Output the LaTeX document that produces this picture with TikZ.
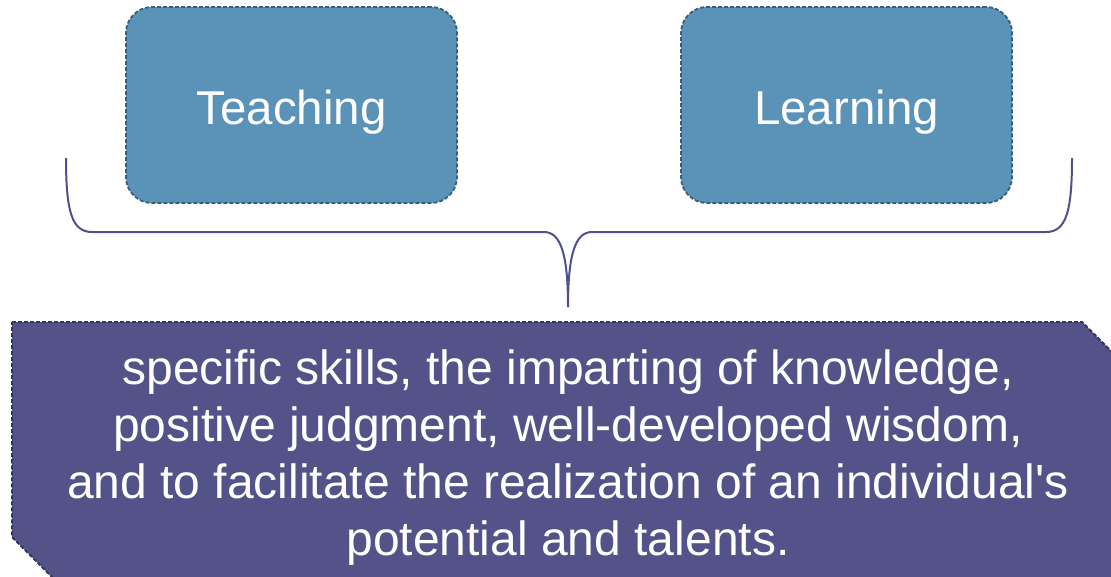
\documentclass[tikz,border=0pt]{standalone}
\usepackage{fontspec}
\setmainfont{Liberation Sans}
\newfontfamily\plainsans{Liberation Sans}
\definecolor{topfill}{RGB}{91,146,183}
\definecolor{topline}{RGB}{55,95,122}
\definecolor{botfill}{RGB}{84,83,137}
\definecolor{botline}{RGB}{52,52,92}
\definecolor{bracecol}{RGB}{80,80,140}
\tikzset{
  topbox/.style={draw=topline, fill=topfill, line width=1.8pt, dash pattern=on 4pt off 2pt,
    rounded corners=26pt, minimum width=331pt, minimum height=196pt, inner sep=0pt},
  toptext/.style={text=white, inner sep=0pt, font=\fontsize{47.5}{56}\selectfont},
  botshape/.style={draw=botline, fill=botfill, line width=1.8pt, dash pattern=on 4pt off 2pt},
  bottext/.style={text=white, align=center, font=\plainsans\fontsize{48}{57}\selectfont, inner sep=0pt},
  bracestyle/.style={draw=bracecol, line width=2pt}
}
\begin{document}
\begin{tikzpicture}[x=1pt,y=-1pt]
\useasboundingbox (0,0) rectangle (1111,576);
\clip (0,0) rectangle (1111,576);
\node[topbox] (teach) at (291.5,105) {};
\node[topbox] (learn) at (846.5,105) {};
\node[toptext] (teachtxt) at (291.5,112) {Teaching};
\node[toptext] (learntxt) at (846.5,112) {Learning};
\coordinate (tip) at (568,307);
\coordinate (lend) at (66,158);
\coordinate (rend) at (1072,158);
\draw[bracestyle] (lend) .. controls (66,212) and (72,232) .. (92,232) -- (544,232)
  .. controls (561,232) and (568,255) .. (tip);
\draw[bracestyle] (rend) .. controls (1072,212) and (1066,232) .. (1046,232) -- (592,232)
  .. controls (575,232) and (568,255) .. (tip);
\path[botshape] (12,322) -- (1082,322) -- (1112,352) -- (1112,580) -- (55,580) -- (12,537) -- cycle;
\node[bottext] (desc) at (568,458) {specific skills, the imparting of knowledge,\\positive judgment, well-developed wisdom,\\and to facilitate the realization of an individual's\\potential and talents.};
\end{tikzpicture}
\end{document}
